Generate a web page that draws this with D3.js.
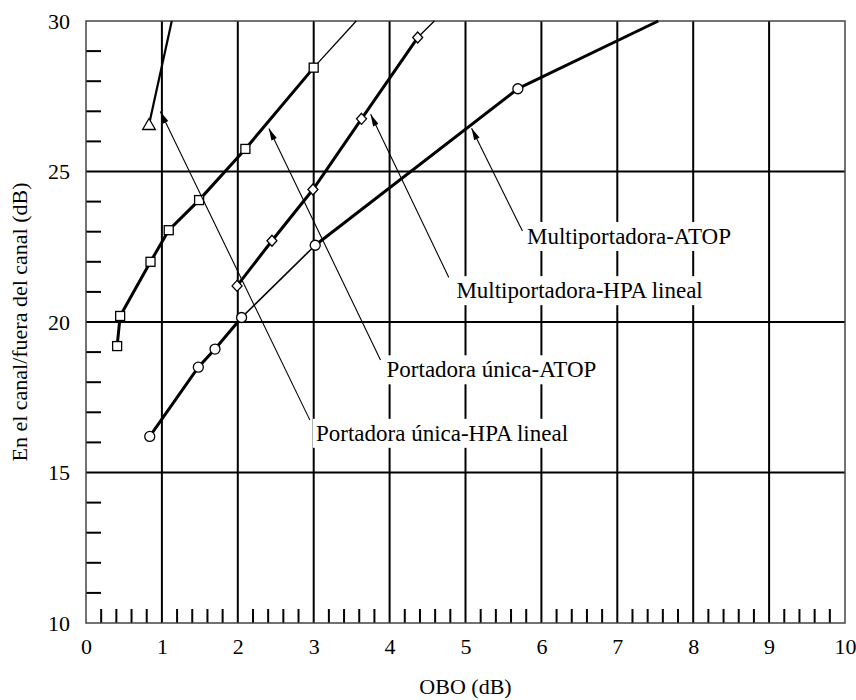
<!DOCTYPE html>
<html>
<head>
<meta charset="utf-8">
<script src="https://cdn.jsdelivr.net/npm/d3@7"></script>
<style>
  body { margin: 0; background: #fff; }
  svg { display: block; font-family: "Liberation Serif", "Times New Roman", serif; }
</style>
</head>
<body>
<svg id="chart" width="856" height="700"></svg>
<script>
// ejes
const xTicks = [0, 1, 2, 3, 4, 5, 6, 7, 8, 9, 10];
const yTicks = [10, 15, 20, 25, 30];
const yGrid = [15, 20, 25];

// Portadora única-HPA lineal (triángulo)
const singleHpaX = [0.83, 1.13];
const singleHpaY = [26.55, 30];

// Portadora única-ATOP (cuadrados) + prolongación fina
const singleAtopX = [0.41, 0.45, 0.85, 1.09, 1.49, 2.10, 3.00];
const singleAtopY = [19.2, 20.2, 22.0, 23.05, 24.05, 25.75, 28.45];
const singleAtopTailX = [3.00, 3.56];
const singleAtopTailY = [28.45, 30];

// Multiportadora-HPA lineal (rombos) + prolongación fina
const multiHpaX = [1.99, 2.45, 2.99, 3.63, 4.37];
const multiHpaY = [21.2, 22.7, 24.4, 26.75, 29.45];
const multiHpaTailX = [4.37, 4.59];
const multiHpaTailY = [29.45, 30];

// Multiportadora-ATOP (círculos)
const multiAtopX = [0.84, 1.48, 1.70, 2.05, 3.02, 5.69];
const multiAtopY = [16.2, 18.5, 19.1, 20.15, 22.55, 27.75];
const multiAtopEndX = [5.69, 7.54];
const multiAtopEndY = [27.75, 30];

// etiquetas: texto, posición (izq, centro) y punta de flecha
const labelText = ["Multiportadora-ATOP", "Multiportadora-HPA lineal", "Portadora única-ATOP", "Portadora única-HPA lineal"];
const labelX = [5.81, 4.88, 3.96, 3.03];
const labelY = [22.86, 21.06, 18.43, 16.32];
const leaderX = [5.75, 4.78, 3.88, 2.95];
const leaderY = [23.02, 21.48, 18.74, 16.74];
const tipX = [5.08, 3.75, 2.41, 0.98];
const tipY = [26.44, 26.9, 26.43, 26.99];

const svg = d3.select("#chart");
const mLeft = 86, mRight = 845, mTop = 21, mBottom = 623;

const x = d3.scaleLinear().domain([0, 10]).range([mLeft, mRight]);
const y = d3.scaleLinear().domain([10, 30]).range([mBottom, mTop]);

const zip = (xs, ys) => xs.map((v, i) => [v, ys[i]]);
const line = d3.line().x(d => x(d[0])).y(d => y(d[1]));

svg.append("defs").append("marker")
    .attr("id", "arrow")
    .attr("viewBox", "0 0 12 6")
    .attr("refX", 12).attr("refY", 3)
    .attr("markerWidth", 13).attr("markerHeight", 6)
    .attr("markerUnits", "userSpaceOnUse")
    .attr("orient", "auto")
    .append("path")
    .attr("d", "M0,0 L12,3 L0,6 Z")
    .attr("fill", "#000");

// rejilla
const grid = svg.append("g");
grid.selectAll(".vg").data(xTicks.slice(1, -1)).enter().append("line")
    .attr("x1", d => x(d)).attr("x2", d => x(d))
    .attr("y1", mTop).attr("y2", mBottom)
    .attr("stroke", "#000").attr("stroke-width", 2);
grid.selectAll(".hg").data(yGrid).enter().append("line")
    .attr("x1", mLeft).attr("x2", mRight)
    .attr("y1", d => y(d)).attr("y2", d => y(d))
    .attr("stroke", "#000").attr("stroke-width", 2);

// marcas menores
const xMinor = d3.range(0, 50).map(i => i / 5).filter(v => Math.abs(v - Math.round(v)) > 1e-6);
grid.selectAll(".xm").data(xMinor).enter().append("line")
    .attr("x1", d => x(d)).attr("x2", d => x(d))
    .attr("y1", mBottom).attr("y2", mBottom - 14)
    .attr("stroke", "#000").attr("stroke-width", 2);
const yMinor = d3.range(11, 30).filter(v => v % 5 !== 0);
grid.selectAll(".ym").data(yMinor).enter().append("line")
    .attr("x1", mLeft).attr("x2", mLeft + 15)
    .attr("y1", d => y(d)).attr("y2", d => y(d))
    .attr("stroke", "#000").attr("stroke-width", 2);

svg.append("rect")
    .attr("x", mLeft).attr("y", mTop)
    .attr("width", mRight - mLeft).attr("height", mBottom - mTop)
    .attr("fill", "none").attr("stroke", "#444").attr("stroke-width", 1.5);

// ejes (solo texto)
const xAxis = svg.append("g")
    .attr("transform", `translate(0,${mBottom})`)
    .call(d3.axisBottom(x).tickValues(xTicks).tickSize(0).tickPadding(15).tickFormat(d3.format("d")));
const yAxis = svg.append("g")
    .attr("transform", `translate(${mLeft},0)`)
    .call(d3.axisLeft(y).tickValues(yTicks).tickSize(0).tickPadding(16).tickFormat(d3.format("d")));
[xAxis, yAxis].forEach(a => {
    a.select(".domain").remove();
    a.selectAll("text").attr("font-size", 22).attr("font-family", "Liberation Serif").attr("fill", "#000");
});

svg.append("text")
    .attr("x", (mLeft + mRight) / 2).attr("y", 694)
    .attr("text-anchor", "middle")
    .attr("font-size", 22)
    .text("OBO (dB)");
svg.append("text")
    .attr("transform", `translate(27,${(mTop + mBottom) / 2}) rotate(-90)`)
    .attr("text-anchor", "middle")
    .attr("font-size", 22)
    .text("En el canal/fuera del canal (dB)");

// curvas
const curves = svg.append("g").attr("fill", "none").attr("stroke", "#000");
curves.append("path").attr("d", line(zip(singleHpaX, singleHpaY))).attr("stroke-width", 2.2);
curves.append("path").attr("d", line(zip(singleAtopX, singleAtopY))).attr("stroke-width", 3);
curves.append("path").attr("d", line(zip(singleAtopTailX, singleAtopTailY))).attr("stroke-width", 1.3);
curves.append("path").attr("d", line(zip(multiHpaX, multiHpaY))).attr("stroke-width", 3);
curves.append("path").attr("d", line(zip(multiHpaTailX, multiHpaTailY))).attr("stroke-width", 1.3);
const mA = zip(multiAtopX, multiAtopY);
curves.append("path").attr("d", line(mA.slice(0, 4))).attr("stroke-width", 3);
curves.append("path").attr("d", line(mA.slice(3, 5))).attr("stroke-width", 1.6);
curves.append("path").attr("d", line(mA.slice(4))).attr("stroke-width", 3);
curves.append("path").attr("d", line(zip(multiAtopEndX, multiAtopEndY))).attr("stroke-width", 3);

// marcadores
const marks = svg.append("g").attr("fill", "#fff").attr("stroke", "#000").attr("stroke-width", 1.3);
marks.selectAll(".tri").data(zip(singleHpaX, singleHpaY).slice(0, 1)).enter().append("path")
    .attr("d", d3.symbol(d3.symbolTriangle, 70))
    .attr("transform", d => `translate(${x(d[0])},${y(d[1]) + 1})`);
marks.selectAll(".sq").data(zip(singleAtopX, singleAtopY)).enter().append("rect")
    .attr("x", d => x(d[0]) - 4.5).attr("y", d => y(d[1]) - 4.5)
    .attr("width", 9).attr("height", 9);
marks.selectAll(".dm").data(zip(multiHpaX, multiHpaY)).enter().append("path")
    .attr("d", "M0,-5.5 L5,0 L0,5.5 L-5,0 Z")
    .attr("transform", d => `translate(${x(d[0])},${y(d[1])})`);
marks.selectAll(".ci").data(mA).enter().append("circle")
    .attr("cx", d => x(d[0])).attr("cy", d => y(d[1])).attr("r", 5);

// líneas guía con flecha
const leaders = svg.append("g");
labelText.forEach((t, i) => {
    leaders.append("line")
        .attr("x1", x(leaderX[i])).attr("y1", y(leaderY[i]))
        .attr("x2", x(tipX[i])).attr("y2", y(tipY[i]))
        .attr("stroke", "#000").attr("stroke-width", 1.1)
        .attr("marker-end", "url(#arrow)");
});

// etiquetas con fondo blanco
const labels = svg.append("g");
labelText.forEach((t, i) => {
    const g = labels.append("g");
    const txt = g.append("text")
        .attr("x", x(labelX[i])).attr("y", y(labelY[i]))
        .attr("dy", "0.35em")
        .attr("font-size", 23)
        .attr("fill", "#000")
        .text(t);
    const bb = txt.node().getBBox();
    g.insert("rect", "text")
        .attr("x", bb.x - 3).attr("y", bb.y - 2)
        .attr("width", bb.width + 6).attr("height", bb.height + 4)
        .attr("fill", "#fff");
});
</script>
</body>
</html>
